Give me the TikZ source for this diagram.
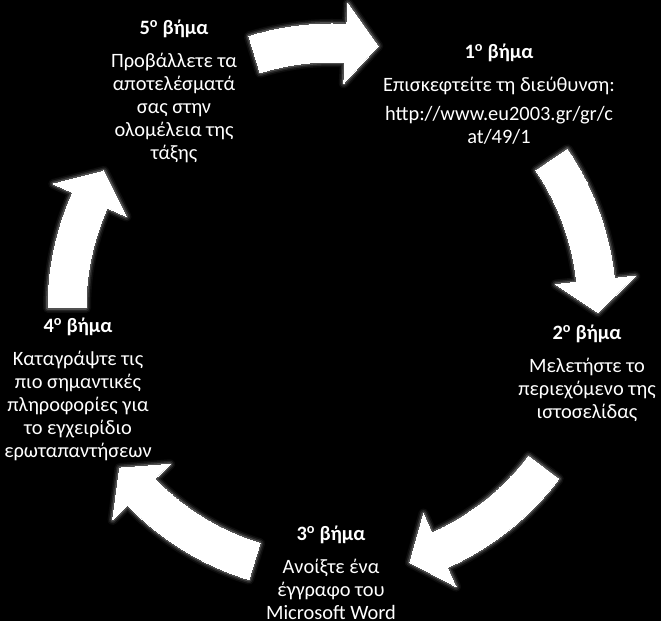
\documentclass[tikz,border=0pt]{standalone}
\usepackage{fontspec}
\setmainfont{Carlito}
\usetikzlibrary{positioning}

\tikzset{
  steptitle/.style={anchor=base, inner sep=0pt, text=white, font=\bfseries\fontsize{20.4}{23}\selectfont},
  stepbody/.style={inner sep=0pt, text=white, align=center, font=\fontsize{20.4}{23}\selectfont},
}

\begin{document}
\begin{tikzpicture}[x=1pt, y=1pt, node distance=14pt]
  \useasboundingbox (0,0) rectangle (661,621);
  \fill[black] (0,0) rectangle (661,621);
  % curved arrows round the cycle, with a soft glow
  \begin{scope}[shift={(332,313)}]
    \foreach \t/\j in {107/87, 34/6, -37/-66, -107/-136, 180/156} {
      \foreach \w/\o in {10pt/0.05, 7pt/0.1, 4pt/0.2, 0pt/1} {
        \filldraw[white, opacity=\o, line width=\w, line join=round]
          (\t:284) arc[start angle=\t, end angle=\j, radius=284]
          -- (\j:305) -- ({\j-7}:266) -- (\j:225) -- (\j:246)
          arc[start angle=\j, end angle=\t, radius=246] -- cycle;
      }
    }
  \end{scope}
  % steps
  \node[steptitle] (t1) at (499,562) {1\textsuperscript{o} βήμα};
  \node[stepbody, below=of t1] (b1) {Επισκεφτείτε τη διεύθυνση:\\[6pt]http://www.eu2003.gr/gr/c\\at/49/1};
  \node[steptitle] (t2) at (587,281) {2\textsuperscript{o} βήμα};
  \node[stepbody, below=of t2] (b2) {Μελετήστε το\\περιεχόμενο της\\ιστοσελίδας};
  \node[steptitle] (t3) at (331,80) {3\textsuperscript{o} βήμα};
  \node[stepbody, below=of t3] (b3) {Ανοίξτε ένα\\έγγραφο του\\Microsoft Word};
  \node[steptitle] (t4) at (78,288) {4\textsuperscript{o} βήμα};
  \node[stepbody, below=of t4] (b4) {Καταγράψτε τις\\πιο σημαντικές\\πληροφορίες για\\το εγχειρίδιο\\ερωταπαντήσεων};
  \node[steptitle] (t5) at (174,586) {5\textsuperscript{o} βήμα};
  \node[stepbody, below=of t5] (b5) {Προβάλλετε τα\\αποτελέσματά\\σας στην\\ολομέλεια της\\τάξης};
\end{tikzpicture}
\end{document}
